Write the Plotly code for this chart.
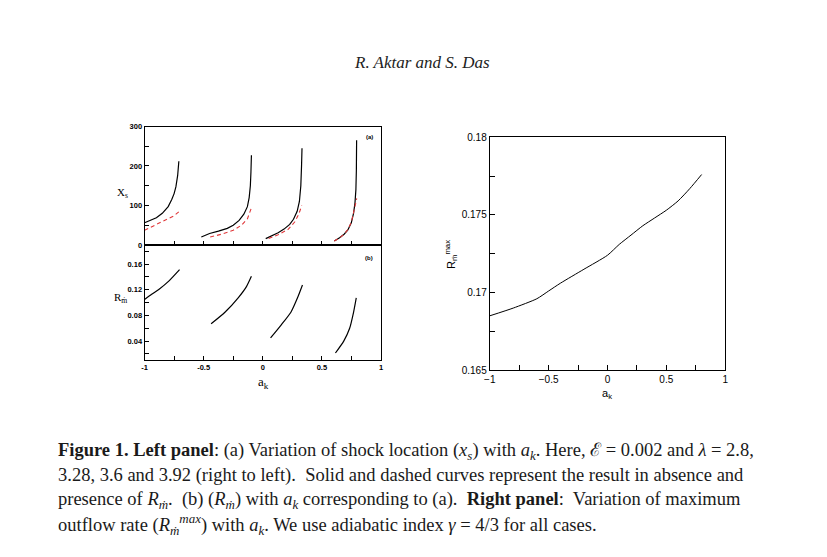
import plotly.graph_objects as go

# (a) shock location x_s vs a_k, solid = without outflow, dashed = with outflow
a_solid_ak = [
    [-1, -0.95, -0.9, -0.85, -0.8, -0.77, -0.75, -0.735, -0.72, -0.71],
    [-0.52, -0.45, -0.375, -0.3, -0.25, -0.2, -0.16, -0.13, -0.115, -0.105, -0.1, -0.096],
    [0.025, 0.08, 0.13, 0.18, 0.228, 0.26, 0.291, 0.31, 0.322, 0.328, 0.332],
    [0.605, 0.65, 0.688, 0.72, 0.749, 0.768, 0.78, 0.788, 0.792, 0.794],
]
a_solid_xs = [
    [56, 62, 69, 80, 97, 115, 130, 147, 176, 212],
    [20, 29, 35, 42, 50, 62, 78, 97, 120, 150, 185, 227],
    [16, 23, 31, 40, 52, 65, 85, 110, 150, 200, 245],
    [10, 18, 27, 38, 56, 80, 106, 140, 190, 265],
]
a_dash_ak = [
    [-1, -0.95, -0.9, -0.85, -0.8, -0.75, -0.71],
    [-0.445, -0.35, -0.25, -0.18, -0.13, -0.096],
    [0.05, 0.13, 0.213, 0.27, 0.305, 0.33],
    [0.605, 0.65, 0.688, 0.72, 0.75, 0.77, 0.785, 0.795],
]
a_dash_xs = [
    [37, 44, 51, 58, 65, 74, 84],
    [20, 27, 37, 50, 66, 94],
    [16, 26, 39, 58, 78, 100],
    [10, 18, 27, 39, 58, 82, 105, 118],
]

# (b) outflow rate R_m vs a_k
b_ak = [
    [-1, -0.94, -0.877, -0.793, -0.704],
    [-0.437, -0.32, -0.208, -0.138, -0.096],
    [0.066, 0.155, 0.238, 0.294, 0.336],
    [0.615, 0.685, 0.735, 0.768, 0.791],
]
b_rm = [
    [0.105, 0.113, 0.121, 0.134, 0.1515],
    [0.067, 0.085, 0.1075, 0.125, 0.141],
    [0.045, 0.065, 0.085, 0.1075, 0.1275],
    [0.0215, 0.04, 0.06, 0.085, 0.1075],
]

# right panel: maximum outflow rate
max_ak = [-1, -0.8, -0.6, -0.5, -0.4, -0.2, 0, 0.1, 0.2, 0.3, 0.4, 0.5, 0.6, 0.7, 0.8]
max_rm = [0.1685, 0.1690, 0.1696, 0.1701, 0.1706, 0.1715, 0.1724, 0.1731,
          0.1737, 0.1743, 0.1748, 0.1753, 0.1759, 0.1767, 0.1776]

W, H = 827, 557
OFF = 8  # page margin around the plot div


def px(x):
    return (x - OFF) / W


def py(y):
    return 1 - (y - OFF) / H


fig = go.Figure()

for xs, ys in zip(a_solid_ak, a_solid_xs):
    fig.add_trace(go.Scatter(x=xs, y=ys, mode="lines", xaxis="x", yaxis="y",
                             line=dict(color="black", width=1.2)))
for xs, ys in zip(a_dash_ak, a_dash_xs):
    fig.add_trace(go.Scatter(x=xs, y=ys, mode="lines", xaxis="x", yaxis="y",
                             line=dict(color="#e0383a", width=1.1, dash="4px,3px")))
for xs, ys in zip(b_ak, b_rm):
    fig.add_trace(go.Scatter(x=xs, y=ys, mode="lines", xaxis="x2", yaxis="y2",
                             line=dict(color="black", width=1.2, shape="spline", smoothing=0.6)))
fig.add_trace(go.Scatter(x=max_ak, y=max_rm, mode="lines", xaxis="x3", yaxis="y3",
                         line=dict(color="black", width=1, shape="spline", smoothing=0.6)))

small = dict(family="Liberation Sans", size=7.5, color="black", weight="bold")
mid = dict(family="Liberation Sans", size=10, color="black")
ax = dict(showline=True, linecolor="black", linewidth=1, mirror=True,
          ticks="inside", ticklen=4, tickcolor="black", showgrid=False, zeroline=False)

x_ticks = [-1, -0.75, -0.5, -0.25, 0, 0.25, 0.5, 0.75, 1]
x_small = ["-1", "", "-0.5", "", "0", "", "0.5", "", "1"]
x_mid = ["\u22121", "", "\u22120.5", "", "0", "", "0.5", "", "1"]

fig.update_layout(
    width=W, height=H, showlegend=False,
    margin=dict(l=0, r=0, t=0, b=0),
    paper_bgcolor="white", plot_bgcolor="white",
    xaxis=dict(ax, domain=[px(140), px(379)], range=[-1, 1], anchor="y",
               tickvals=x_ticks, showticklabels=False),
    yaxis=dict(ax, domain=[py(244), py(123)], range=[0, 300], anchor="x",
               tickvals=[0, 50, 100, 150, 200, 250, 300],
               ticktext=["0", "", "100", "", "200", "", "300"], tickfont=small),
    xaxis2=dict(ax, domain=[px(140), px(379)], range=[-1, 1], anchor="y2",
                tickvals=x_ticks, ticktext=x_small, tickfont=small),
    yaxis2=dict(ax, domain=[py(362), py(244)], range=[0.01, 0.19], anchor="x2",
                tickvals=[0.02, 0.04, 0.06, 0.08, 0.1, 0.12, 0.14, 0.16, 0.18],
                ticktext=["", "0.04", "", "0.08", "", "0.12", "", "0.16", ""], tickfont=small),
    xaxis3=dict(ax, domain=[px(489), px(727)], range=[-1, 1], anchor="y3",
                tickvals=x_ticks, ticktext=x_mid, tickfont=mid, ticklen=5),
    yaxis3=dict(ax, domain=[py(372), py(134)], range=[0.165, 0.18], anchor="x3",
                tickvals=[0.165, 0.1675, 0.17, 0.1725, 0.175, 0.1775, 0.18],
                ticktext=["0.165", "", "0.17", "", "0.175", "", "0.18"], tickfont=mid, ticklen=5),
)

serif = "Liberation Serif"
notes = [
    (420, 58, "<i>R. Aktar and S. Das</i>", dict(family=serif, size=17, color="#222"), 0),
    (118, 191, "X<sub>s</sub>", dict(family=serif, size=11, color="black"), 0),
    (116, 298, "R<sub>\u1e41</sub>", dict(family=serif, size=11, color="black"), 0),
    (260, 385, "a<sub>k</sub>", dict(family=serif, size=13, color="black"), 0),
    (367, 134, "(a)", dict(family="Liberation Sans", size=6, color="black", weight="bold"), 0),
    (367, 257, "(b)", dict(family="Liberation Sans", size=6, color="black", weight="bold"), 0),
    (608, 396, "a<sub>k</sub>", dict(family="Liberation Sans", size=11, color="black"), 0),
    (450, 254, "R<sub>\u1e41</sub><sup>max</sup>", dict(family="Liberation Sans", size=11, color="black"), -90),
]
for x, y, t, f, ang in notes:
    fig.add_annotation(x=px(x), y=py(y), xref="paper", yref="paper", text=t,
                       xanchor="center", yanchor="middle",
                       showarrow=False, font=f, textangle=ang)

caption = [
    "<b>Figure 1. Left panel</b>: (a) Variation of shock location (<i>x<sub>s</sub></i>) with "
    "<i>a<sub>k</sub></i>. Here, \u2130 = 0.002 and <i>\u03bb</i> = 2.8,",
    "3.28, 3.6 and 3.92 (right to left).  Solid and dashed curves represent the result in absence and",
    "presence of <i>R<sub>\u1e41</sub></i>.  (b) (<i>R<sub>\u1e41</sub></i>) with <i>a<sub>k</sub></i> "
    "corresponding to (a).  <b>Right panel</b>:  Variation of maximum",
    "outflow rate (<i>R<sub>\u1e41</sub><sup>max</sup></i>) with <i>a<sub>k</sub></i>. "
    "We use adiabatic index <i>\u03b3</i> = 4/3 for all cases.",
]
for i, line in enumerate(caption):
    fig.add_annotation(x=px(50), y=py(455 + i * 25), xref="paper", yref="paper",
                       xanchor="left", yanchor="middle", text=line, showarrow=False,
                       font=dict(family=serif, size=18.5, color="#1a1a1a"))

fig.write_html("out.html")
